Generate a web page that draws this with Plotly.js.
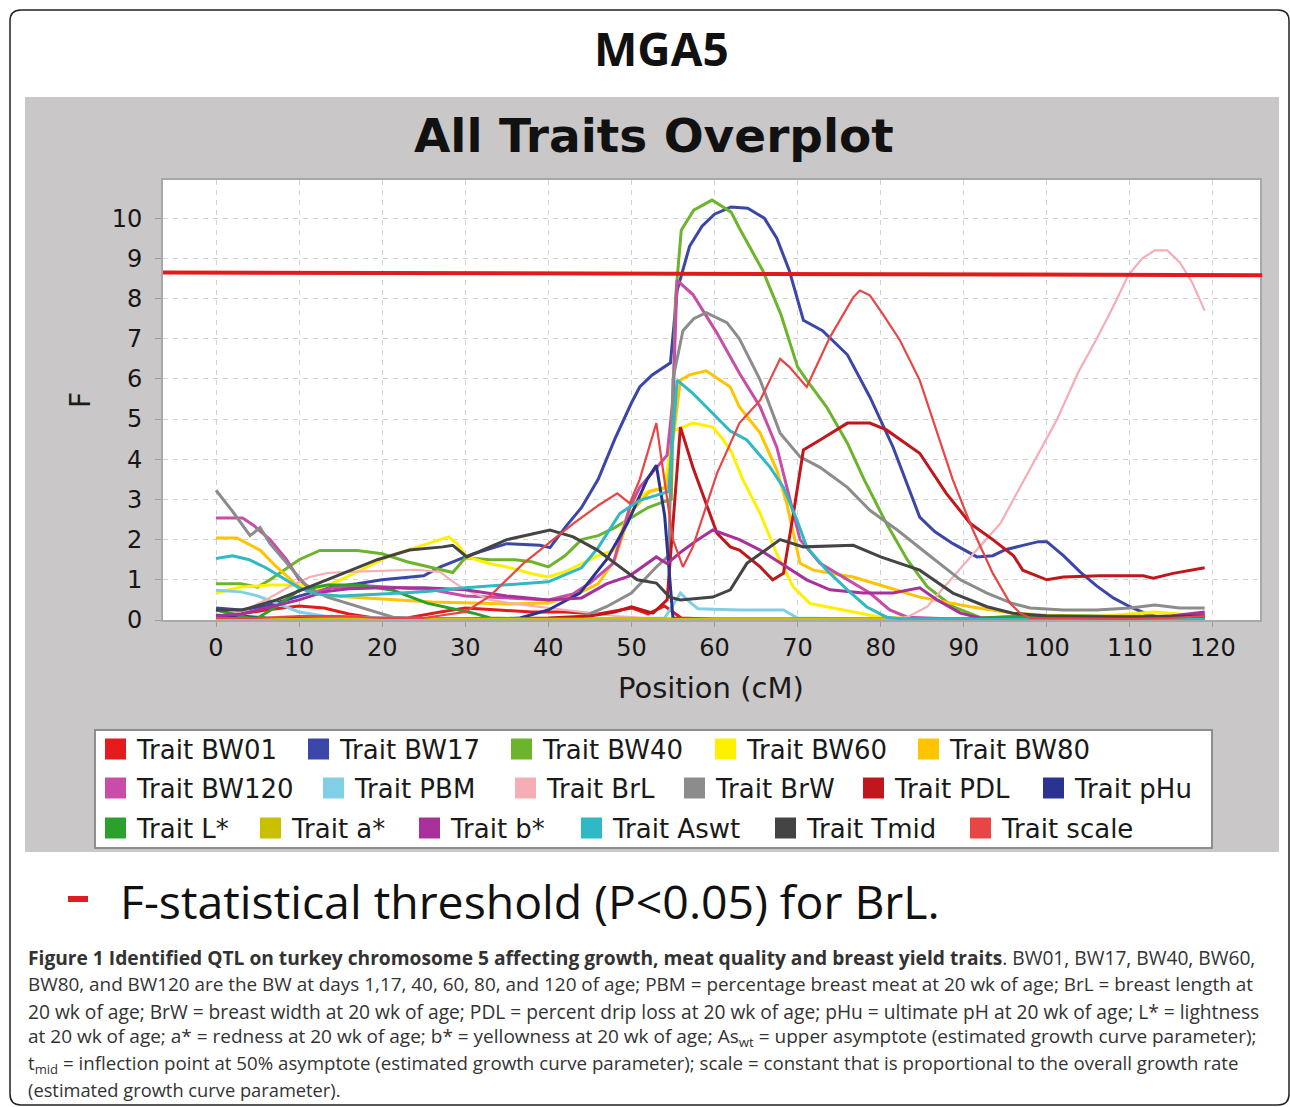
<!DOCTYPE html>
<html>
<head>
<meta charset="utf-8">
<script src="https://cdn.plot.ly/plotly-3.0.1.min.js"></script>
<style>
html,body{margin:0;padding:0;background:#fff;}
#chart{width:1290px;height:1107px;}
</style>
</head>
<body>
<div id="chart"></div>
<script>
// ---------------- DATA ----------------
const traitNames = ['Trait BW01','Trait BW17','Trait BW40','Trait BW60','Trait BW80','Trait BW120',
  'Trait PBM','Trait BrL','Trait BrW','Trait PDL','Trait pHu',
  'Trait L*','Trait a*','Trait b*','Trait Aswt','Trait Tmid','Trait scale'];
const traitColors = ['#e41a1c','#3a46a8','#6cb42c','#fff000','#ffc400','#c84ca8',
  '#80cfe6','#f4aeb4','#8c8c8c','#c0161c','#2a3490',
  '#2ca02c','#c8c000','#a8309a','#30b8c4','#444444','#e84545'];

const posBW01 = [0,3,6,10,13,16,19,23,27,30,34,38,42,46,50,52,54,56,60,70,80,90,100,110,116,119];
const fBW01   = [0.1,0.15,0.25,0.35,0.3,0.15,0.05,0.05,0.2,0.3,0.25,0.2,0.2,0.15,0.3,0.15,0.35,0.05,0.02,0.02,0.02,0.02,0.02,0.02,0.05,0.12];

const posBW17 = [0,3,6,10,13.4,17,20,25,27,31,35,39,40.2,42,44,46,48,50,51,52.5,54,54.7,55.5,57,58.5,60,62,64,66,67.5,69,70.7,73,76,78.7,81.5,84.7,86.5,88.7,91.6,93.5,95,97,99,100,102,104,106,108,110,112,113.6,117,119];
const fBW17   = [0.3,0.25,0.35,0.6,0.8,0.9,1.0,1.1,1.32,1.65,1.9,1.86,1.8,2.3,2.8,3.5,4.5,5.4,5.8,6.1,6.3,6.4,8.2,9.3,9.8,10.1,10.28,10.25,10.0,9.5,8.7,7.46,7.2,6.6,5.55,4.3,2.56,2.2,1.9,1.57,1.6,1.75,1.85,1.95,1.95,1.6,1.2,0.85,0.55,0.33,0.15,0.07,0.08,0.1];

const posBW40 = [0,3,5,6.5,10,12.5,17,20,23,27,28.5,30,33,36,38,40,42,44,46,48,50,52,54,54.8,55.3,56,57.5,59.7,62,63,65.8,68,70,71.1,73.5,76,78,80.7,83.2,85.6,88.7,91.9,95,100,105,110,115,119];
const fBW40   = [0.9,0.9,0.82,1.0,1.5,1.73,1.73,1.65,1.45,1.25,1.18,1.55,1.5,1.5,1.45,1.32,1.6,2.0,2.1,2.3,2.55,2.8,2.95,3.0,8.0,9.7,10.2,10.45,10.15,9.75,8.7,7.6,6.3,5.97,5.3,4.4,3.5,2.4,1.5,0.83,0.33,0.07,0.05,0.05,0.03,0.02,0.02,0.02];

const posBW60 = [0,3,6.5,10.5,12,15,18,21,24,27,28,29,30.2,33,35,38,40,42,44,46,48,50,52,54,55,57.4,59.8,61,62,63.4,65.5,67.5,69.5,71.5,75.5,80,85,90,95,100,105,110,113,116,119];
const fBW60   = [0.67,0.82,0.87,0.87,0.75,1.0,1.3,1.6,1.8,2.0,2.07,1.9,1.57,1.4,1.32,1.15,1.07,1.2,1.4,1.6,1.74,2.9,3.2,3.3,4.7,4.9,4.8,4.5,4.2,3.5,2.65,1.65,0.82,0.41,0.25,0.07,0.03,0.03,0.05,0.05,0.07,0.15,0.2,0.15,0.12];

const posBW80 = [0,2.5,5.3,7.3,10,11.7,14,18,22,26,31,35,40,43,46,48,49.8,52.2,54.3,55.9,57,59,61.9,63,65.5,67.5,68.7,70.3,71.9,76.7,80.7,84.7,90.8,95.9,100,105,110,115,119];
const fBW80   = [2.04,2.04,1.74,1.32,0.82,0.67,0.6,0.55,0.5,0.45,0.42,0.4,0.42,0.6,0.9,1.5,2.65,3.2,3.3,5.97,6.1,6.2,5.8,5.3,4.65,3.73,2.9,1.41,1.24,1.07,0.82,0.57,0.33,0.17,0.12,0.1,0.1,0.1,0.12];

const posBW120 = [0,3.2,4.5,6.5,8.5,10,12,14,18,22,26,30,35,40,43,45,47.8,49.8,51,53,54.3,55,55.5,57.4,60.3,63,65.5,67.5,69,70.3,72.7,76,78.7,81.1,83.2,88,95,105,115,119];
const fBW120   = [2.54,2.54,2.36,2.0,1.5,1.0,0.7,0.8,0.85,0.8,0.75,0.6,0.55,0.5,0.65,0.92,1.41,2.8,3.3,3.8,4.1,5.5,8.45,8.1,7.14,6.14,5.3,4.3,3.06,2.0,1.41,1.0,0.67,0.25,0.07,0.03,0.02,0.02,0.05,0.15];

const posPBM = [0,3,5,8,10,13,20,30,40,50,54,55.9,57,58,63,68.3,70,80,90,100,110,119];
const fPBM   = [0.74,0.7,0.6,0.35,0.2,0.1,0.05,0.03,0.03,0.03,0.05,0.67,0.45,0.28,0.25,0.25,0.05,0.02,0.02,0.03,0.05,0.05];

const posBrL = [0,3,6,9,11.3,13.4,16,20,24,27,28.2,30,33,36,40,44,48,52,56,60,65,70,75,80,83.2,85.6,88,90.8,94.4,96.8,98.4,101.2,103.8,106,108,109.8,111.5,113,114.5,116,117.5,119];
const fBrL   = [0.1,0.2,0.5,0.85,1.07,1.17,1.2,1.22,1.25,1.2,1.0,0.75,0.5,0.4,0.3,0.2,0.1,0.05,0.02,0.02,0.02,0.02,0.02,0.02,0.07,0.33,0.9,1.57,2.4,3.3,3.9,4.98,6.17,7.0,7.8,8.58,9.0,9.2,9.2,8.9,8.4,7.7];

const posBrW = [0,2,4.1,5.3,6.5,9.3,11,13.4,17.3,21.3,25,30,35,40,44,47,50,53,54.5,55,56.2,57.5,59,61.5,63,65.5,67.9,70.3,72.7,76,78.7,82,85.6,89.6,92.8,95.9,98,102,106,110,113,116,119];
const fBrW   = [3.23,2.7,2.1,2.3,1.9,1.24,0.82,0.57,0.33,0.07,0.02,0.02,0.02,0.02,0.07,0.33,0.67,1.32,1.6,6.0,7.2,7.5,7.65,7.4,7.0,5.97,4.65,4.06,3.8,3.3,2.73,2.24,1.65,1.0,0.67,0.41,0.3,0.25,0.25,0.3,0.37,0.3,0.3];

const posPDL = [0,10,20,30,40,45,48,50,52.6,54.3,55.9,57.4,60.3,61.9,63,65.5,67,68.3,69.5,70.7,72.7,76,78.7,80.7,84.7,87.9,90.8,93.5,96,97.1,100,102,106.4,111.6,112.8,115.2,119];
const fPDL   = [0.02,0.02,0.02,0.02,0.05,0.1,0.2,0.33,0.17,0.5,4.8,3.8,2.16,1.82,1.74,1.32,1.0,1.16,2.65,4.23,4.48,4.9,4.9,4.73,4.15,3.15,2.4,2.0,1.6,1.24,1.0,1.07,1.1,1.1,1.04,1.16,1.3];

const posPHu = [0,3,6,10,15,20,25,30,35,36.6,40,43.8,47,49.5,51.9,53,54,55,57,60,70,80,90,100,110,119];
const fPHu   = [0.12,0.1,0.05,0.03,0.02,0.02,0.02,0.02,0.02,0.05,0.25,0.67,1.5,2.4,3.5,3.85,2.6,0.05,0.02,0.02,0.02,0.02,0.02,0.02,0.02,0.02];

const posL = [0,2,4,5,7,10,13.4,17.3,21.3,25.4,29.4,31,33,40,50,60,70,80,90,95,100,105,110,115,119];
const fL   = [0.25,0.15,0.05,0.05,0.3,0.74,0.87,0.87,0.74,0.42,0.25,0.17,0.05,0.02,0.02,0.02,0.02,0.02,0.02,0.08,0.1,0.1,0.08,0.05,0.03];

const posA = [0,20,40,60,80,100,119];
const fA   = [0.02,0.02,0.02,0.02,0.02,0.02,0.02];

const posB = [0,3,6,10,13,16,20,25,30,35,40,44,47,49.8,53,54.3,56,58,59.8,63,65.5,68.7,71.1,73.9,77.9,81.5,84.7,86.8,89.6,92,95,100,105,110,115,119];
const fB   = [0.1,0.15,0.3,0.5,0.7,0.78,0.8,0.8,0.75,0.6,0.5,0.55,0.9,1.1,1.57,1.4,1.7,2.0,2.24,2.0,1.74,1.32,1.0,0.75,0.67,0.67,0.8,0.5,0.17,0.05,0.03,0.03,0.03,0.05,0.1,0.2];

const posAswt = [0,2,4,6,8,10,12,15,20,25,30,35,40,44,46,48.6,51,53,54.5,55.5,57.4,59.8,61.9,63.9,66.7,68.3,69.9,71.1,73.5,76,78.3,80.7,83,86,90,100,110,119];
const fAswt   = [1.53,1.6,1.5,1.3,1.05,0.8,0.65,0.6,0.65,0.7,0.8,0.88,0.95,1.3,1.8,2.65,2.98,3.1,3.2,5.97,5.64,5.14,4.7,4.48,3.8,3.3,2.5,1.82,1.24,0.75,0.33,0.07,0.02,0.02,0.02,0.02,0.02,0.02];

const posTmid = [0,3.2,7.3,11.3,15.3,19.4,23.3,27.3,28.5,30.2,35,40.2,43,45.9,48.6,50.7,53,54.6,55.9,59.8,61.9,63.9,67.9,70.7,76.7,80,84.7,88.7,92.8,95.9,100,105,110,115,119];
const fTmid   = [0.25,0.25,0.5,0.82,1.16,1.5,1.74,1.82,1.86,1.57,2.0,2.24,2.07,1.74,1.32,1.0,0.92,0.57,0.5,0.57,0.75,1.41,2.0,1.82,1.86,1.57,1.24,0.67,0.33,0.17,0.1,0.08,0.08,0.1,0.1];

const posScale = [0,5,10,15,20,25,30,33,37,40,43,46,48.3,49.8,51,53,54,55,56.2,57.4,60.3,63,65.5,67.9,69,71.1,73.9,76.7,77.5,78.7,80.3,82.3,84.7,86.8,88.7,91.1,93.5,95.6,96.8,98,105,110,115,119];
const fScale   = [0.05,0.05,0.1,0.1,0.05,0.05,0.2,0.6,1.41,1.9,2.4,2.85,3.15,2.9,3.5,4.9,3.5,2.0,1.32,1.82,3.65,4.9,5.47,6.5,6.3,5.8,7.04,8.03,8.2,8.08,7.6,6.97,5.97,4.65,3.48,2.24,1.16,0.41,0.17,0.05,0.03,0.03,0.05,0.1];

const traitPos = [posBW01,posBW17,posBW40,posBW60,posBW80,posBW120,posPBM,posBrL,posBrW,posPDL,posPHu,posL,posA,posB,posAswt,posTmid,posScale];
const traitF   = [fBW01,fBW17,fBW40,fBW60,fBW80,fBW120,fPBM,fBrL,fBrW,fPDL,fPHu,fL,fA,fB,fAswt,fTmid,fScale];

const thresholdF = [8.65, 8.58];   // BrL threshold (P<0.05), left / right
const xTicks = [0,10,20,30,40,50,60,70,80,90,100,110,120];
const yTicks = [0,1,2,3,4,5,6,7,8,9,10];

const captionLines = [
  '<b>Figure 1 Identified QTL on turkey chromosome 5 affecting growth, meat quality and breast yield traits</b>. BW01, BW17, BW40, BW60,',
  'BW80, and BW120 are the BW at days 1,17, 40, 60, 80, and 120 of age; PBM = percentage breast meat at 20 wk of age; BrL = breast length at',
  '20 wk of age; BrW = breast width at 20 wk of age; PDL = percent drip loss at 20 wk of age; pHu = ultimate pH at 20 wk of age; L* = lightness',
  'at 20 wk of age; a* = redness at 20 wk of age; b* = yellowness at 20 wk of age; As<sub>wt</sub> = upper asymptote (estimated growth curve parameter);',
  't<sub>mid</sub> = inflection point at 50% asymptote (estimated growth curve parameter); scale = constant that is proportional to the overall growth rate',
  '(estimated growth curve parameter).'
];

// ---------------- LAYOUT GEOMETRY (page pixels) ----------------
const W = 1290, H = 1107;
const PL = 163, PR = 1260, PT = 180, PB = 620;
const pw = PR - PL, ph = PB - PT;
const px = v => (v - PL) / pw;
const py = v => (PB - v) / ph;

// legend layout: rows and square left edges
const legendRowsY = [749, 788, 828];
const legendRowOf = [0,0,0,0,0, 1,1,1,1,1,1, 2,2,2,2,2,2];
const legendSqX   = [105,308,511,715,918, 105,323,515,684,863,1043, 105,260,419,581,775,970];

// caption layout
const capY = [957,984,1011,1037,1064,1089];
const capSize = [19.2,18.9,19.2,19.0,18.7,18.3];

const shapes = [];
const annotations = [];

function rrPath(x0,y0,x1,y1,r){
  const P=(a,b)=>px(a)+','+py(b);
  return 'M'+P(x0+r,y0)+' L'+P(x1-r,y0)+' Q'+P(x1,y0)+' '+P(x1,y0+r)+
    ' L'+P(x1,y1-r)+' Q'+P(x1,y1)+' '+P(x1-r,y1)+
    ' L'+P(x0+r,y1)+' Q'+P(x0,y1)+' '+P(x0,y1-r)+
    ' L'+P(x0,y0+r)+' Q'+P(x0,y0)+' '+P(x0+r,y0)+' Z';
}
function rect(x0,y0,x1,y1,fill,line,lw,layer){
  shapes.push({type:'rect',xref:'paper',yref:'paper',x0:px(x0),x1:px(x1),y0:py(y1),y1:py(y0),
    fillcolor:fill,line:{color:line||'rgba(0,0,0,0)',width:lw||0},layer:layer||'below'});
}
// outer rounded frame
shapes.push({type:'path',xref:'paper',yref:'paper',path:rrPath(10,10,1289,1105,11),
  fillcolor:'rgba(0,0,0,0)',line:{color:'#222',width:1.5},layer:'below'});
// grey panel
rect(25,97,1279,852,'#c9c7c7');
// plot area
rect(PL,PT,PR,PB,'#ffffff');
// legend box
rect(95,730,1212,848,'#ffffff','#8e8e8e',2);
// legend entries
traitNames.forEach((n,i)=>{
  const cy = legendRowsY[legendRowOf[i]];
  const sx = legendSqX[i];
  rect(sx, cy-10.5, sx+21, cy+10.5, traitColors[i]);
  annotations.push({xref:'paper',yref:'paper',x:px(sx+29),y:py(cy+1),xanchor:'left',yanchor:'middle',
    text:n,showarrow:false,font:{family:'DejaVu Sans',size:26,color:'#1a1a1a'}});
});
// red dash before threshold text
rect(68,896,88,902,'#e21a22');
// threshold line
shapes.push({type:'line',xref:'paper',yref:'y',x0:0,x1:1.002,y0:thresholdF[0],y1:thresholdF[1],
  line:{color:'#e21a1c',width:4},layer:'above'});

// titles & texts
annotations.push({xref:'paper',yref:'paper',x:px(661),y:py(48),xanchor:'center',yanchor:'middle',
  text:'<b>MGA5</b>',showarrow:false,font:{family:'Open Sans',size:46,color:'#111'}});
annotations.push({xref:'paper',yref:'paper',x:px(654),y:py(135),xanchor:'center',yanchor:'middle',
  text:'<b>All Traits Overplot</b>',showarrow:false,font:{family:'DejaVu Sans',size:47,color:'#111'}});
annotations.push({xref:'paper',yref:'paper',x:px(711),y:py(688),xanchor:'center',yanchor:'middle',
  text:'Position (cM)',showarrow:false,font:{family:'DejaVu Sans',size:29,color:'#1a1a1a'}});
annotations.push({xref:'paper',yref:'paper',x:px(80),y:py(400),xanchor:'center',yanchor:'middle',
  text:'F',textangle:-90,showarrow:false,font:{family:'DejaVu Sans',size:28,color:'#1a1a1a'}});
annotations.push({xref:'paper',yref:'paper',x:px(118),y:py(901),xanchor:'left',yanchor:'middle',
  text:'F-statistical threshold (P&lt;0.05) for BrL.',showarrow:false,font:{family:'Open Sans',size:46.4,color:'#111'}});
captionLines.forEach((t,i)=>{
  annotations.push({xref:'paper',yref:'paper',x:px(26),y:py(capY[i]),xanchor:'left',yanchor:'middle',
    text:t,showarrow:false,font:{family:'Open Sans',size:capSize[i],color:'#333'}});
});

const traces = traitNames.map((n,i)=>({
  type:'scatter',mode:'lines',name:n,x:traitPos[i],y:traitF[i],
  line:{color:traitColors[i],width:(n==='Trait scale'||n==='Trait BrL')?2.2:3},
  hoverinfo:'skip'
}));

const axisFont = {family:'DejaVu Sans',size:24,color:'#161616'};
const layout = {
  width:W,height:H,
  margin:{l:PL,r:W-PR,t:PT,b:H-PB,pad:0},
  paper_bgcolor:'#ffffff',plot_bgcolor:'rgba(0,0,0,0)',
  showlegend:false,
  xaxis:{range:[-6.38,125.66],tickvals:xTicks,ticktext:xTicks.map(String),ticks:'outside',ticklen:5,tickcolor:'#9a9a9a',
    showgrid:true,gridcolor:'#d2d2d2',griddash:'5px,5px',gridwidth:1,zeroline:false,
    showline:true,mirror:true,linecolor:'#a8a8a8',linewidth:2,tickfont:axisFont,ticklabelstandoff:0,fixedrange:true},
  yaxis:{range:[0,10.95],tickvals:yTicks,ticktext:yTicks.map(String),ticks:'outside',ticklen:6,tickcolor:'#9a9a9a',
    showgrid:true,gridcolor:'#d2d2d2',griddash:'5px,5px',gridwidth:1,zeroline:false,
    showline:true,mirror:true,linecolor:'#a8a8a8',linewidth:2,tickfont:axisFont,ticklabelstandoff:8,fixedrange:true},
  shapes:shapes,annotations:annotations
};
Plotly.newPlot('chart',traces,layout,{displayModeBar:false,staticPlot:true});
</script>
</body>
</html>
